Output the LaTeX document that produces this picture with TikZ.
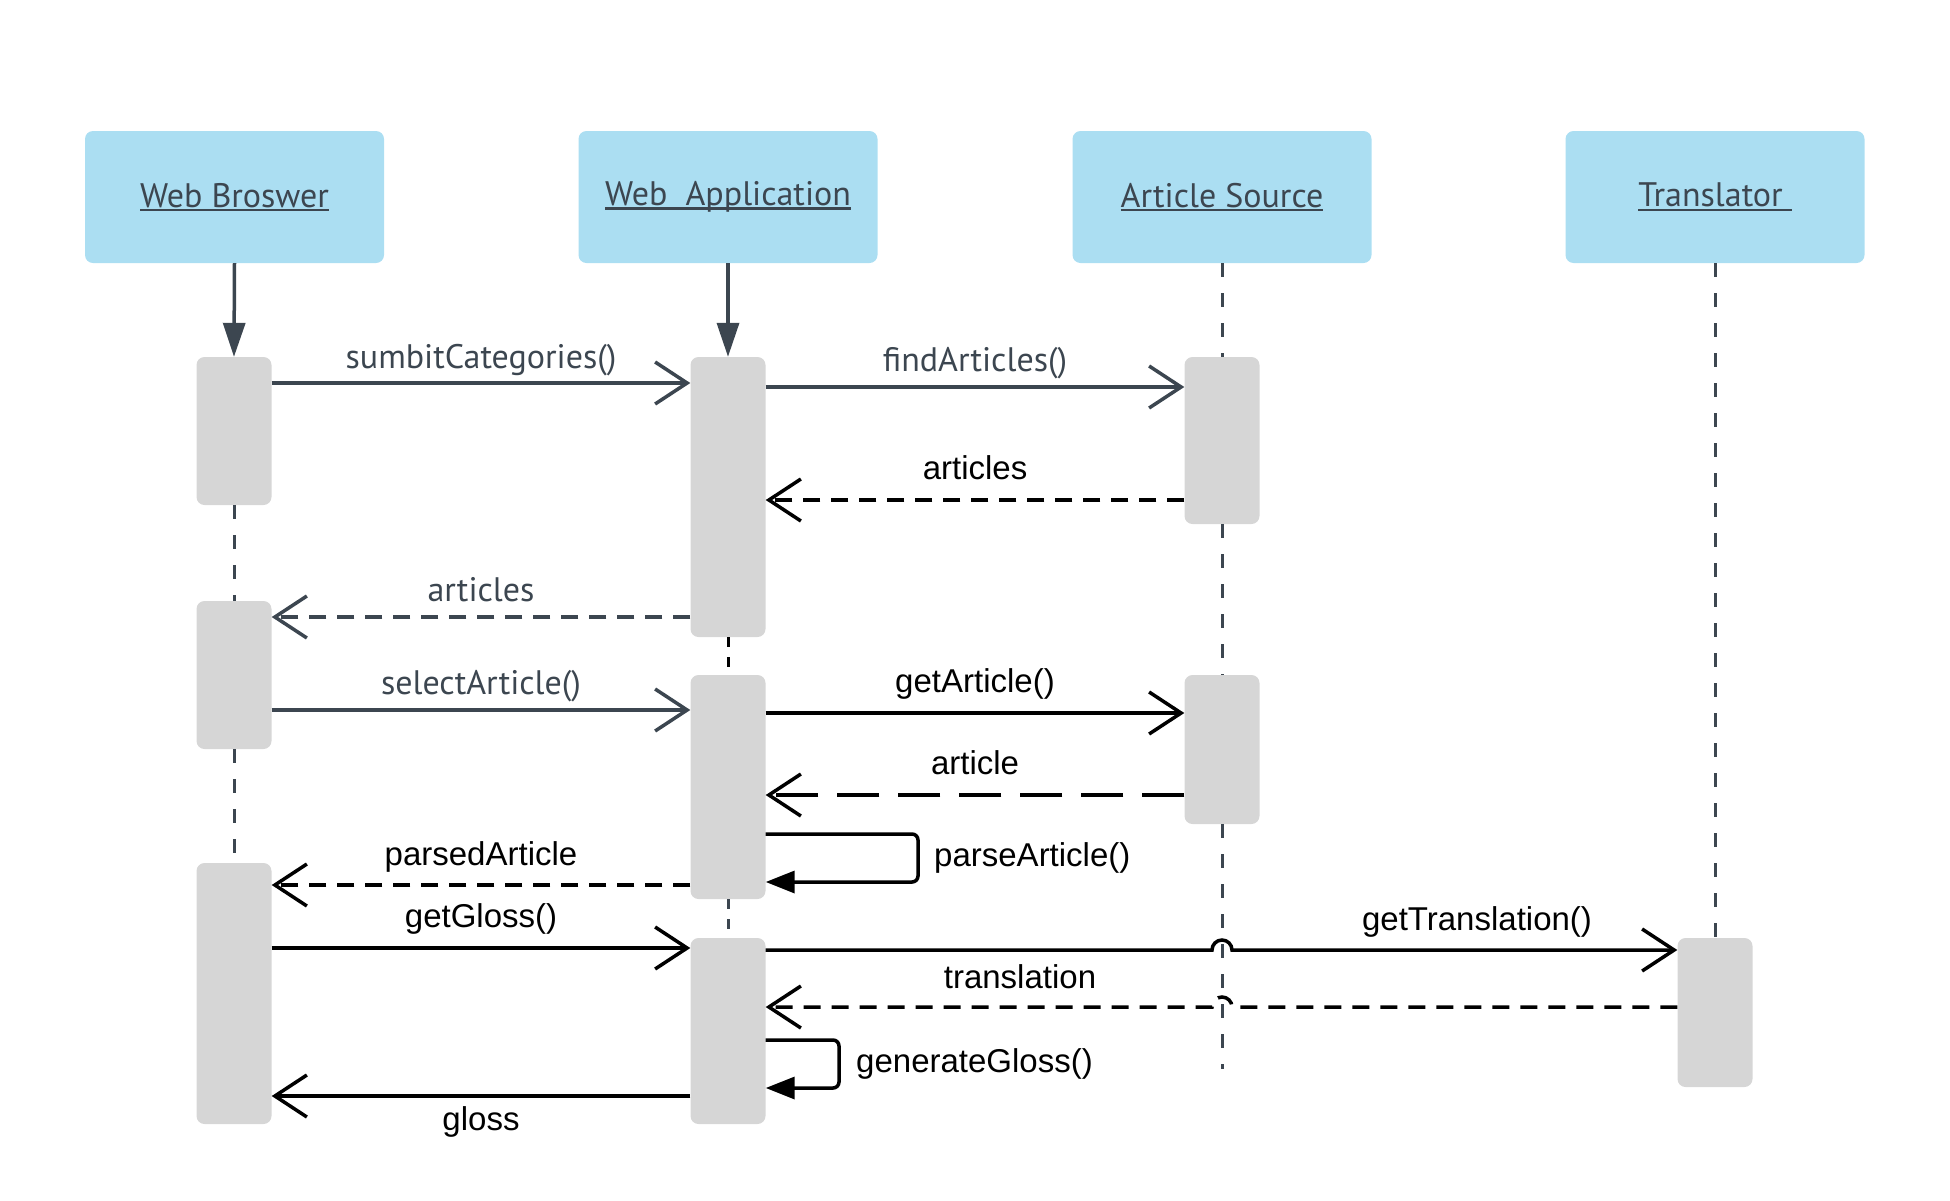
\documentclass[tikz,border=0pt]{standalone}
\usepackage{fontspec}
\setmainfont{Liberation Sans}
\newfontfamily\ptsans{PT Sans}
\newcommand\myul[1]{\setbox0\hbox{#1}\rlap{\rule[-4pt]{\wd0}{2.2pt}}\box0}
\usetikzlibrary{arrows.meta}
\definecolor{boxblue}{HTML}{ABDEF2}
\definecolor{actgray}{HTML}{D6D6D6}
\definecolor{slate}{HTML}{3C4650}
\tikzset{
  part/.style={rectangle, rounded corners=8pt, fill=boxblue, minimum width=299pt, minimum height=132pt, inner sep=0pt, text=slate, font=\ptsans\fontsize{34}{40}\selectfont},
  act/.style={rectangle, rounded corners=8pt, fill=actgray, minimum width=75pt, inner sep=0pt},
  life/.style={draw=slate, line width=3pt, dash pattern=on 14pt off 16pt},
  lifeshort/.style={draw=slate, line width=3pt, dash pattern=on 10pt off 10pt},
  vtip/.style={-{Straight Barb[length=32pt, width=42pt, line width=3.5pt]}},
  msg/.style={line width=3.5pt, vtip},
  smsg/.style={msg, draw=slate},
  kmsg/.style={msg, draw=black},
  ret/.style={msg, dash pattern=on 17pt off 11pt},
  longret/.style={msg, dash pattern=on 42pt off 19pt},
  create/.style={draw=slate, line width=3.5pt, -{Triangle[length=34pt, width=22pt]}},
  self/.style={draw=black, line width=3.5pt, rounded corners=6pt, -{Triangle[length=29pt, width=22pt, sharp]}},
  slbl/.style={text=slate, font=\ptsans\fontsize{34}{40}\selectfont, inner sep=0pt},
  klbl/.style={text=black, font=\fontsize{33}{40}\selectfont, inner sep=0pt},
}
\begin{document}
\begin{tikzpicture}[x=1pt, y=-1pt]
\useasboundingbox (0,0) rectangle (1950,1200);
% participants
\node[part] (wb) at (234.5,197) {\myul{Web Broswer}};
\node[part] (wa) at (728,197) {\myul{Web\ \ Application}};
\node[part] (as) at (1222,197) {\myul{Article Source}};
\node[part] (tr) at (1715,197) {\myul{Translator\ }};
% activations
\node[act, minimum height=148pt] (wb1) at (234,431) {};
\node[act, minimum height=148pt] (wb2) at (234,675) {};
\node[act, minimum height=261pt] (wb3) at (234,993.5) {};
\node[act, minimum height=280pt] (wa1) at (728,497) {};
\node[act, minimum height=224pt] (wa2) at (728,787) {};
\node[act, minimum height=186pt] (wa3) at (728,1031) {};
\node[act, minimum height=167pt] (as1) at (1222,440.5) {};
\node[act, minimum height=149pt] (as2) at (1222,749.5) {};
\node[act, minimum height=149pt] (tr1) at (1715,1012.5) {};
\coordinate (asend) at (1222,1069);
% lifelines
\draw[create] (wb.south) -- (wb1.north);
\draw[create] (wa.south) -- (wa1.north);
\draw[life] (wb1.south) -- (wb2.north);
\draw[life] (wb2.south) -- (wb3.north);
\draw[lifeshort, draw=black] (wa1.south) -- (wa2.north);
\draw[lifeshort] (wa2.south) -- (wa3.north);
\draw[life] (as.south) -- (as1.north);
\draw[life] (as1.south) -- (as2.north);
\draw[life] (as2.south) -- (asend);
\draw[life] (tr.south) -- (tr1.north);
% messages
\draw[smsg] (wb1.east |- 0,383) -- (wa1.west |- 0,383);
\node[slbl] (l1) at (481,360) {sumbitCategories()};
\draw[smsg] (wa1.east |- 0,387) -- (as1.west |- 0,387);
\node[slbl] (l2) at (975,363) {findArticles()};
\draw[ret, draw=black] (as1.west |- 0,500) -- (wa1.east |- 0,500);
\node[klbl] (l3) at (975,468) {articles};
\draw[ret, draw=slate] (wa1.west |- 0,617) -- (wb2.east |- 0,617);
\node[slbl] (l4) at (481,590) {articles};
\draw[smsg] (wb2.east |- 0,710) -- (wa2.west |- 0,710);
\node[slbl] (l5) at (481,686) {selectArticle()};
\draw[kmsg] (wa2.east |- 0,713) -- (as2.west |- 0,713);
\node[klbl] (l6) at (975,684) {getArticle()};
\draw[longret, draw=black] (as2.west |- 0,795) -- (wa2.east |- 0,795);
\node[klbl] (l7) at (975,763) {article};
\draw[self] (wa2.east |- 0,834) -- (918,834) -- (918,882) -- (wa2.east |- 0,882);
\node[klbl, anchor=west] (l8) at (934,858) {parseArticle()};
\draw[ret, draw=black] (wa2.west |- 0,885) -- (wb3.east |- 0,885);
\node[klbl] (l9) at (481,857) {parsedArticle};
\draw[kmsg] (wb3.east |- 0,948) -- (wa3.west |- 0,948);
\node[klbl] (l10) at (481,919) {getGloss()};
\draw[kmsg] (wa3.east |- 0,950) -- (1212,950) arc[start angle=180, end angle=0, radius=10pt] -- (tr1.west |- 0,950);
\node[klbl] (l11) at (1477,922) {getTranslation()};
\draw[ret, draw=black] (tr1.west |- 0,1007) -- (1232,1007) arc[start angle=0, end angle=180, radius=10pt] -- (wa3.east |- 0,1007);
\node[klbl] (l12) at (1020,977) {translation};
\draw[self] (wa3.east |- 0,1040) -- (839,1040) -- (839,1088) -- (wa3.east |- 0,1088);
\node[klbl, anchor=west] (l13) at (856,1064) {generateGloss()};
\draw[kmsg] (wa3.west |- 0,1096) -- (wb3.east |- 0,1096);
\node[klbl] (l14) at (481,1122) {gloss};
\end{tikzpicture}
\end{document}
